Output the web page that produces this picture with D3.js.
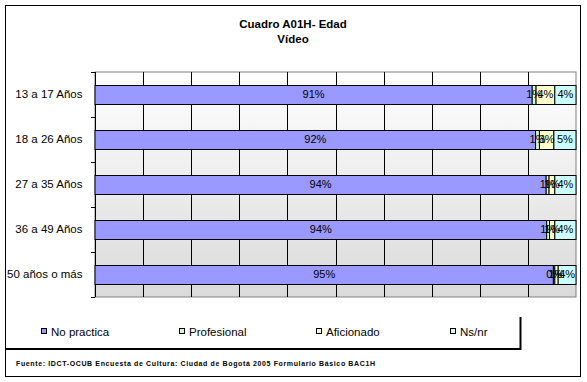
<!DOCTYPE html>
<html><head><meta charset="utf-8">
<script src="https://cdn.jsdelivr.net/npm/d3@7"></script>
<style>body{margin:0;background:#fff}svg{display:block}text{font-family:"Liberation Sans",Arial,sans-serif}</style>
</head><body>
<script>
const categories = ["13 a 17 Años","18 a 26 Años","27 a 35 Años","36 a 49 Años","50 años o más"];
const seriesNames = ["No practica","Profesional","Aficionado","Ns/nr"];
const noPractica = [90.9, 91.6, 93.8, 93.9, 95.3];
const profesional = [0.8, 0.8, 0.6, 0.6, 0.3];
const aficionado = [3.9, 3.0, 1.2, 1.1, 0.7];
const nsnr = [4.4, 4.6, 4.4, 4.4, 3.7];
const colors = ["#9999FF","#CCFFCC","#FFFFCC","#CCFFFF"];
const titleLines = ["Cuadro A01H- Edad","Vídeo"];
const footnote = "Fuente: IDCT-OCUB Encuesta de Cultura: Ciudad de Bogotá 2005 Formulario Básico BAC1H";
const xTicks = [0,10,20,30,40,50,60,70,80,90,100];

const W=587,H=382;
const svg=d3.select("body").append("svg").attr("width",W).attr("height",H);
const defs=svg.append("defs");
const grad=defs.append("linearGradient").attr("id","bg").attr("x1",0).attr("y1",0).attr("x2",0).attr("y2",1);
grad.append("stop").attr("offset","0%").attr("stop-color","#ffffff");
grad.append("stop").attr("offset","100%").attr("stop-color","#dadada");

svg.append("rect").attr("x",5.5).attr("y",5.5).attr("width",575).attr("height",371).attr("fill","#fff").attr("stroke","#000");

// title
svg.append("g").selectAll("text").data(titleLines).join("text")
  .attr("x",293).attr("y",(d,i)=>28+i*15).attr("text-anchor","middle")
  .attr("font-size",11.5).attr("font-weight","bold").text(d=>d);

const m={l:95,r:576,t:72,b:297};
const x=d3.scaleLinear().domain([0,100]).range([m.l,m.r]);
const y=d3.scaleBand().domain(categories).range([m.t,m.b]).paddingInner(0.58).paddingOuter(0.29);

svg.append("rect").attr("x",m.l).attr("y",m.t).attr("width",m.r-m.l).attr("height",m.b-m.t)
  .attr("fill","url(#bg)").attr("stroke","#808080");

// gridlines
svg.append("g").selectAll("line").data(xTicks.slice(1,-1)).join("line")
  .attr("x1",d=>Math.round(x(d))+0.5).attr("x2",d=>Math.round(x(d))+0.5)
  .attr("y1",m.t).attr("y2",m.b).attr("stroke","#000");

// y axis
const yAxis=d3.axisLeft(y).tickSize(0).tickPadding(13);
const ga=svg.append("g").attr("transform",`translate(${m.l+0.5},0)`).call(yAxis);
ga.select(".domain").attr("stroke","#000").attr("d",`M0,${m.t}V${m.b}`);
ga.selectAll("text").attr("font-size",11.5).attr("fill","#000").style("font-family","'Liberation Sans',Arial,sans-serif");
// category boundary ticks
const bounds=d3.range(categories.length+1).map(i=>m.t+i*(m.b-m.t)/categories.length);
svg.append("g").selectAll("line").data(bounds).join("line")
  .attr("x1",m.l-4).attr("x2",m.l).attr("y1",d=>Math.round(d)+0.5).attr("y2",d=>Math.round(d)+0.5).attr("stroke","#000");

// stacked bars
const rows=categories.map((c,i)=>({cat:c,v:[noPractica[i],profesional[i],aficionado[i],nsnr[i]]}));
const stack=d3.stack().keys([0,1,2,3]).value((d,k)=>d.v[k]);
const stacked=stack(rows);
const gs=svg.append("g").selectAll("g").data(stacked).join("g").attr("fill",(d,i)=>colors[i]);
gs.selectAll("rect").data(d=>d).join("rect")
  .attr("x",d=>x(d[0])).attr("width",d=>x(d[1])-x(d[0]))
  .attr("y",d=>Math.round(y(d.data.cat))+0.5).attr("height",Math.round(y.bandwidth()))
  .attr("stroke","#000").attr("stroke-width",1);
const fmt=d=>Math.round(d)+"%";
svg.append("g").selectAll("g").data(stacked).join("g").selectAll("text").data(d=>d).join("text")
  .attr("x",d=>(x(d[0])+x(d[1]))/2).attr("y",d=>Math.round(y(d.data.cat))+y.bandwidth()/2+4)
  .attr("text-anchor","middle").attr("font-size",11).attr("fill","#000")
  .text(d=>fmt(d[1]-d[0]));

// legend
const lg=svg.append("g");
lg.append("line").attr("x1",6).attr("x2",521).attr("y1",349).attr("y2",349).attr("stroke","#000").attr("stroke-width",2);
lg.append("line").attr("x1",520.5).attr("x2",520.5).attr("y1",317).attr("y2",350).attr("stroke","#000").attr("stroke-width",2);
const lx=[41,179,316,450];
const items=lg.selectAll("g").data(seriesNames).join("g").attr("transform",(d,i)=>`translate(${lx[i]},0)`);
items.append("rect").attr("x",0.5).attr("y",328.5).attr("width",5).attr("height",5).attr("fill",(d,i)=>colors[i]).attr("stroke","#000");
items.append("text").attr("x",10).attr("y",335.5).attr("font-size",11.5).attr("fill","#000").text(d=>d);

// footnote
svg.append("text").attr("x",16).attr("y",366).attr("font-size",7).attr("font-weight","bold")
  .attr("textLength",359).attr("lengthAdjust","spacing").text(footnote);
</script>
</body></html>
